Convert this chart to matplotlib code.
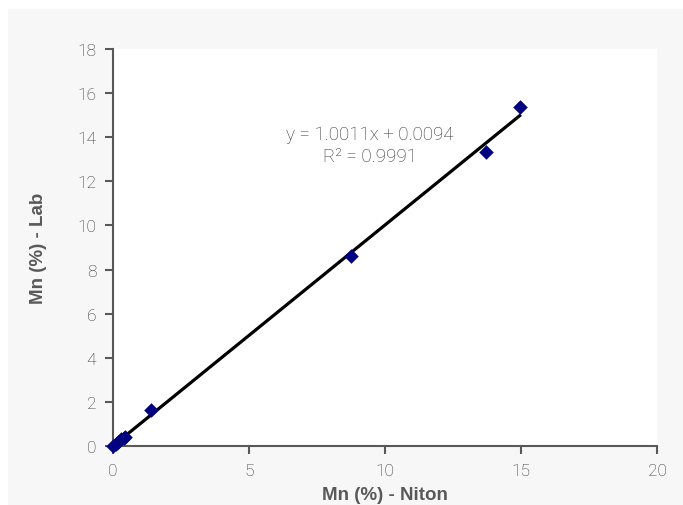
import matplotlib.pyplot as plt
from matplotlib.patches import Rectangle

# data
niton = [0.0, 0.1, 0.2, 0.3, 0.4, 0.45, 1.4, 8.75, 13.7, 14.95]
lab = [0.0, 0.1, 0.2, 0.3, 0.35, 0.4, 1.63, 8.6, 13.33, 15.37]
slope, intercept = 1.0011, 0.0094
eq_text = "y = 1.0011x + 0.0094"
r2_text = "R² = 0.9991"

grey = "#595959"
text_grey = "#333333"
plt.rcParams['font.family'] = ['Roboto', 'DejaVu Sans']

fig = plt.figure(figsize=(6.83, 5.06), dpi=100)
fig.patch.set_facecolor("white")
fig.patches.append(Rectangle((8 / 683, 0), 1, (506 - 10) / 506,
                             transform=fig.transFigure, facecolor="#f7f7f7",
                             edgecolor="none", zorder=-10))

ax = fig.add_axes([113 / 683, (506 - 447) / 506, 544 / 683, 397 / 506])
ax.set_facecolor("white")

xs = [min(niton), max(niton)]
ax.plot(xs, [slope * x + intercept for x in xs], color="black", lw=2.3, zorder=2)
ax.scatter(niton, lab, marker="D", s=55, color="#000080", zorder=3,
           linewidths=0, clip_on=False)

ax.set_xlim(0, 20)
ax.set_ylim(0, 18)
ax.set_xticks(range(0, 21, 5))
ax.set_yticks(range(0, 19, 2))

for s in ("top", "right"):
    ax.spines[s].set_visible(False)
for s in ("left", "bottom"):
    ax.spines[s].set_color(grey)
    ax.spines[s].set_linewidth(1.5)
ax.tick_params(direction="out", length=6, width=1.5, color=grey,
               labelcolor=text_grey, labelsize=12.5, pad=6)
for lbl in ax.get_xticklabels() + ax.get_yticklabels():
    lbl.set_fontweight("light")

ax.text(9.45, 14.15, eq_text, ha="center", va="center", fontsize=13.5,
        color=text_grey, fontweight="light")
ax.text(9.45, 13.15, r2_text, ha="center", va="center", fontsize=13.5,
        color=text_grey, fontweight="light")

ax.set_xlabel("Mn (%) - Niton", fontsize=13.5, fontweight="bold", color=grey,
              labelpad=6, family=["Liberation Sans", "DejaVu Sans"])
ax.set_ylabel("Mn (%) - Lab", fontsize=13.5, fontweight="bold", color=grey,
              labelpad=22, family=["Liberation Sans", "DejaVu Sans"])

fig.savefig("out.png", dpi=100)
